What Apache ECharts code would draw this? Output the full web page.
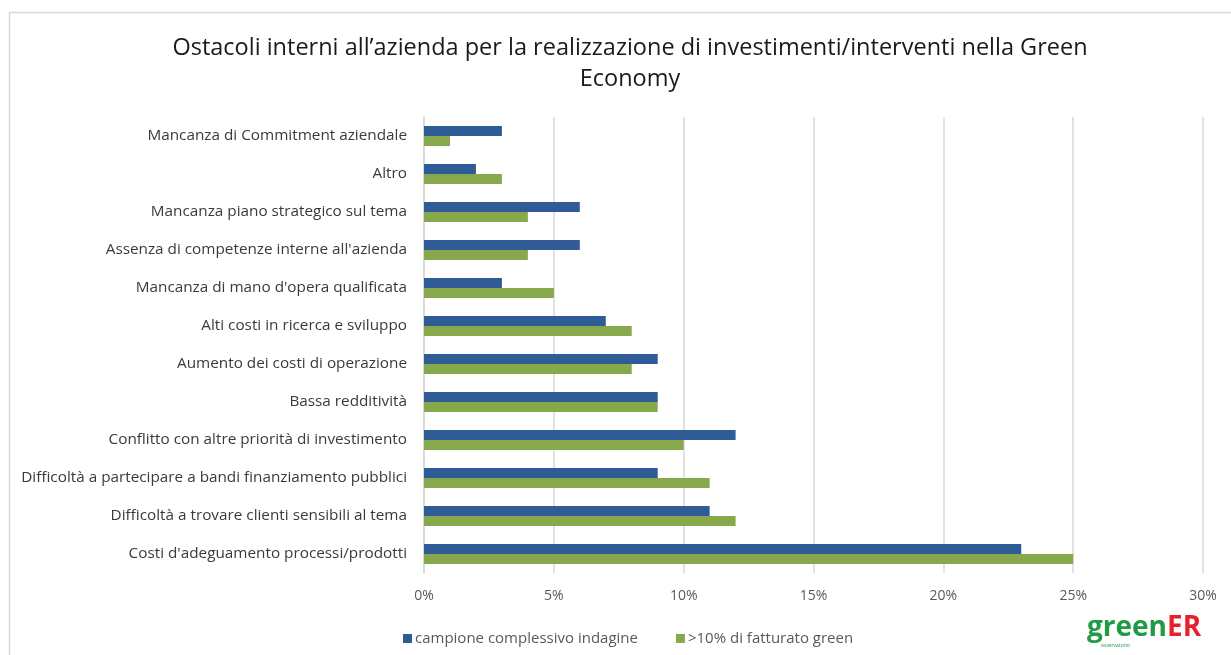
<!DOCTYPE html>
<html>
<head>
<meta charset="utf-8">
<script src="https://cdn.jsdelivr.net/npm/echarts@6/dist/echarts.min.js"></script>
<style>
  html, body { margin: 0; padding: 0; background: #ffffff; }
  #chart { width: 1231px; height: 655px; }
</style>
</head>
<body>
<div id="chart"></div>
<script>
// Obstacles, listed top to bottom
const categories = [
  "Mancanza di Commitment aziendale",
  "Altro",
  "Mancanza piano strategico sul tema",
  "Assenza di competenze interne all'azienda",
  "Mancanza di mano d'opera qualificata",
  "Alti costi in ricerca e sviluppo",
  "Aumento dei costi di operazione",
  "Bassa redditività",
  "Conflitto con altre priorità di investimento",
  "Difficoltà a partecipare a bandi finanziamento pubblici",
  "Difficoltà a trovare clienti sensibili al tema",
  "Costi d'adeguamento processi/prodotti"
];
// Share of companies (%)
const campioneComplessivo = [3, 2, 6, 6, 3, 7, 9, 9, 12, 9, 11, 23];
const fatturatoGreen = [1, 3, 4, 4, 5, 8, 8, 9, 10, 11, 12, 25];
const seriesNames = ["campione complessivo indagine", ">10% di fatturato green"];
const titleLines = ["Ostacoli interni all\u2019azienda per la realizzazione di investimenti/interventi nella Green", "Economy"];

const FONT = "'Open Sans', Lato, sans-serif";
const chart = echarts.init(document.getElementById('chart'), null, { renderer: 'canvas' });

chart.setOption({
  backgroundColor: '#ffffff',
  animation: false,
  textStyle: { fontFamily: FONT },
  title: {
    text: titleLines.join('\n'),
    left: 625,
    textAlign: 'center',
    top: 28,
    textStyle: { fontFamily: FONT, fontSize: 23.5, fontWeight: 'normal', color: '#1a1a1a', lineHeight: 31 }
  },
  legend: {
    left: 398,
    top: 626,
    itemWidth: 9,
    itemHeight: 9,
    itemGap: 38,
    icon: 'rect',
    textStyle: { fontFamily: FONT, fontSize: 15, color: '#595959', padding: [0, 0, 0, -2] },
    data: seriesNames
  },
  grid: { left: 424, right: 28, top: 117, bottom: 82, containLabel: false },
  xAxis: {
    type: 'value',
    min: 0,
    max: 30,
    interval: 5,
    axisLine: { show: false },
    axisTick: { show: false },
    axisLabel: { formatter: '{value}%', fontFamily: FONT, fontSize: 14, color: '#595959', margin: 16 },
    splitLine: { lineStyle: { color: '#d9d9d9', width: 1.5 } }
  },
  yAxis: {
    type: 'category',
    inverse: true,
    data: categories,
    axisLine: { show: true, lineStyle: { color: '#d9d9d9', width: 1.5 } },
    axisTick: { show: false },
    axisLabel: { fontFamily: FONT, fontSize: 15.3, color: '#3a3a3a', margin: 17 }
  },
  series: [
    {
      name: seriesNames[0],
      type: 'bar',
      data: campioneComplessivo,
      barWidth: 10,
      barGap: '0%',
      itemStyle: { color: '#2f5b97' }
    },
    {
      name: seriesNames[1],
      type: 'bar',
      data: fatturatoGreen,
      barWidth: 10,
      barGap: '0%',
      itemStyle: { color: '#87a84b' }
    }
  ],
  graphic: [
    {
      type: 'rect',
      shape: { x: 9.5, y: 12.5, width: 1240, height: 700 },
      style: { fill: 'none', stroke: '#d9d9d9', lineWidth: 1.5 },
      silent: true
    },
    {
      type: 'text',
      left: 1087,
      top: 614,
      style: {
        text: '{g|green}{r|ER}',
        rich: {
          g: { fontFamily: "'Open Sans', sans-serif", fontSize: 28, fontWeight: 'bold', fill: '#1f9a45' },
          r: { fontFamily: "'Open Sans', sans-serif", fontSize: 28, fontWeight: 'bold', fill: '#e8202a' }
        }
      }
    },
    {
      type: 'text',
      left: 1101,
      top: 643,
      style: { text: 'osservatorio', fontFamily: FONT, fontSize: 5, fill: '#1f9a45' }
    }
  ]
});
</script>
</body>
</html>
